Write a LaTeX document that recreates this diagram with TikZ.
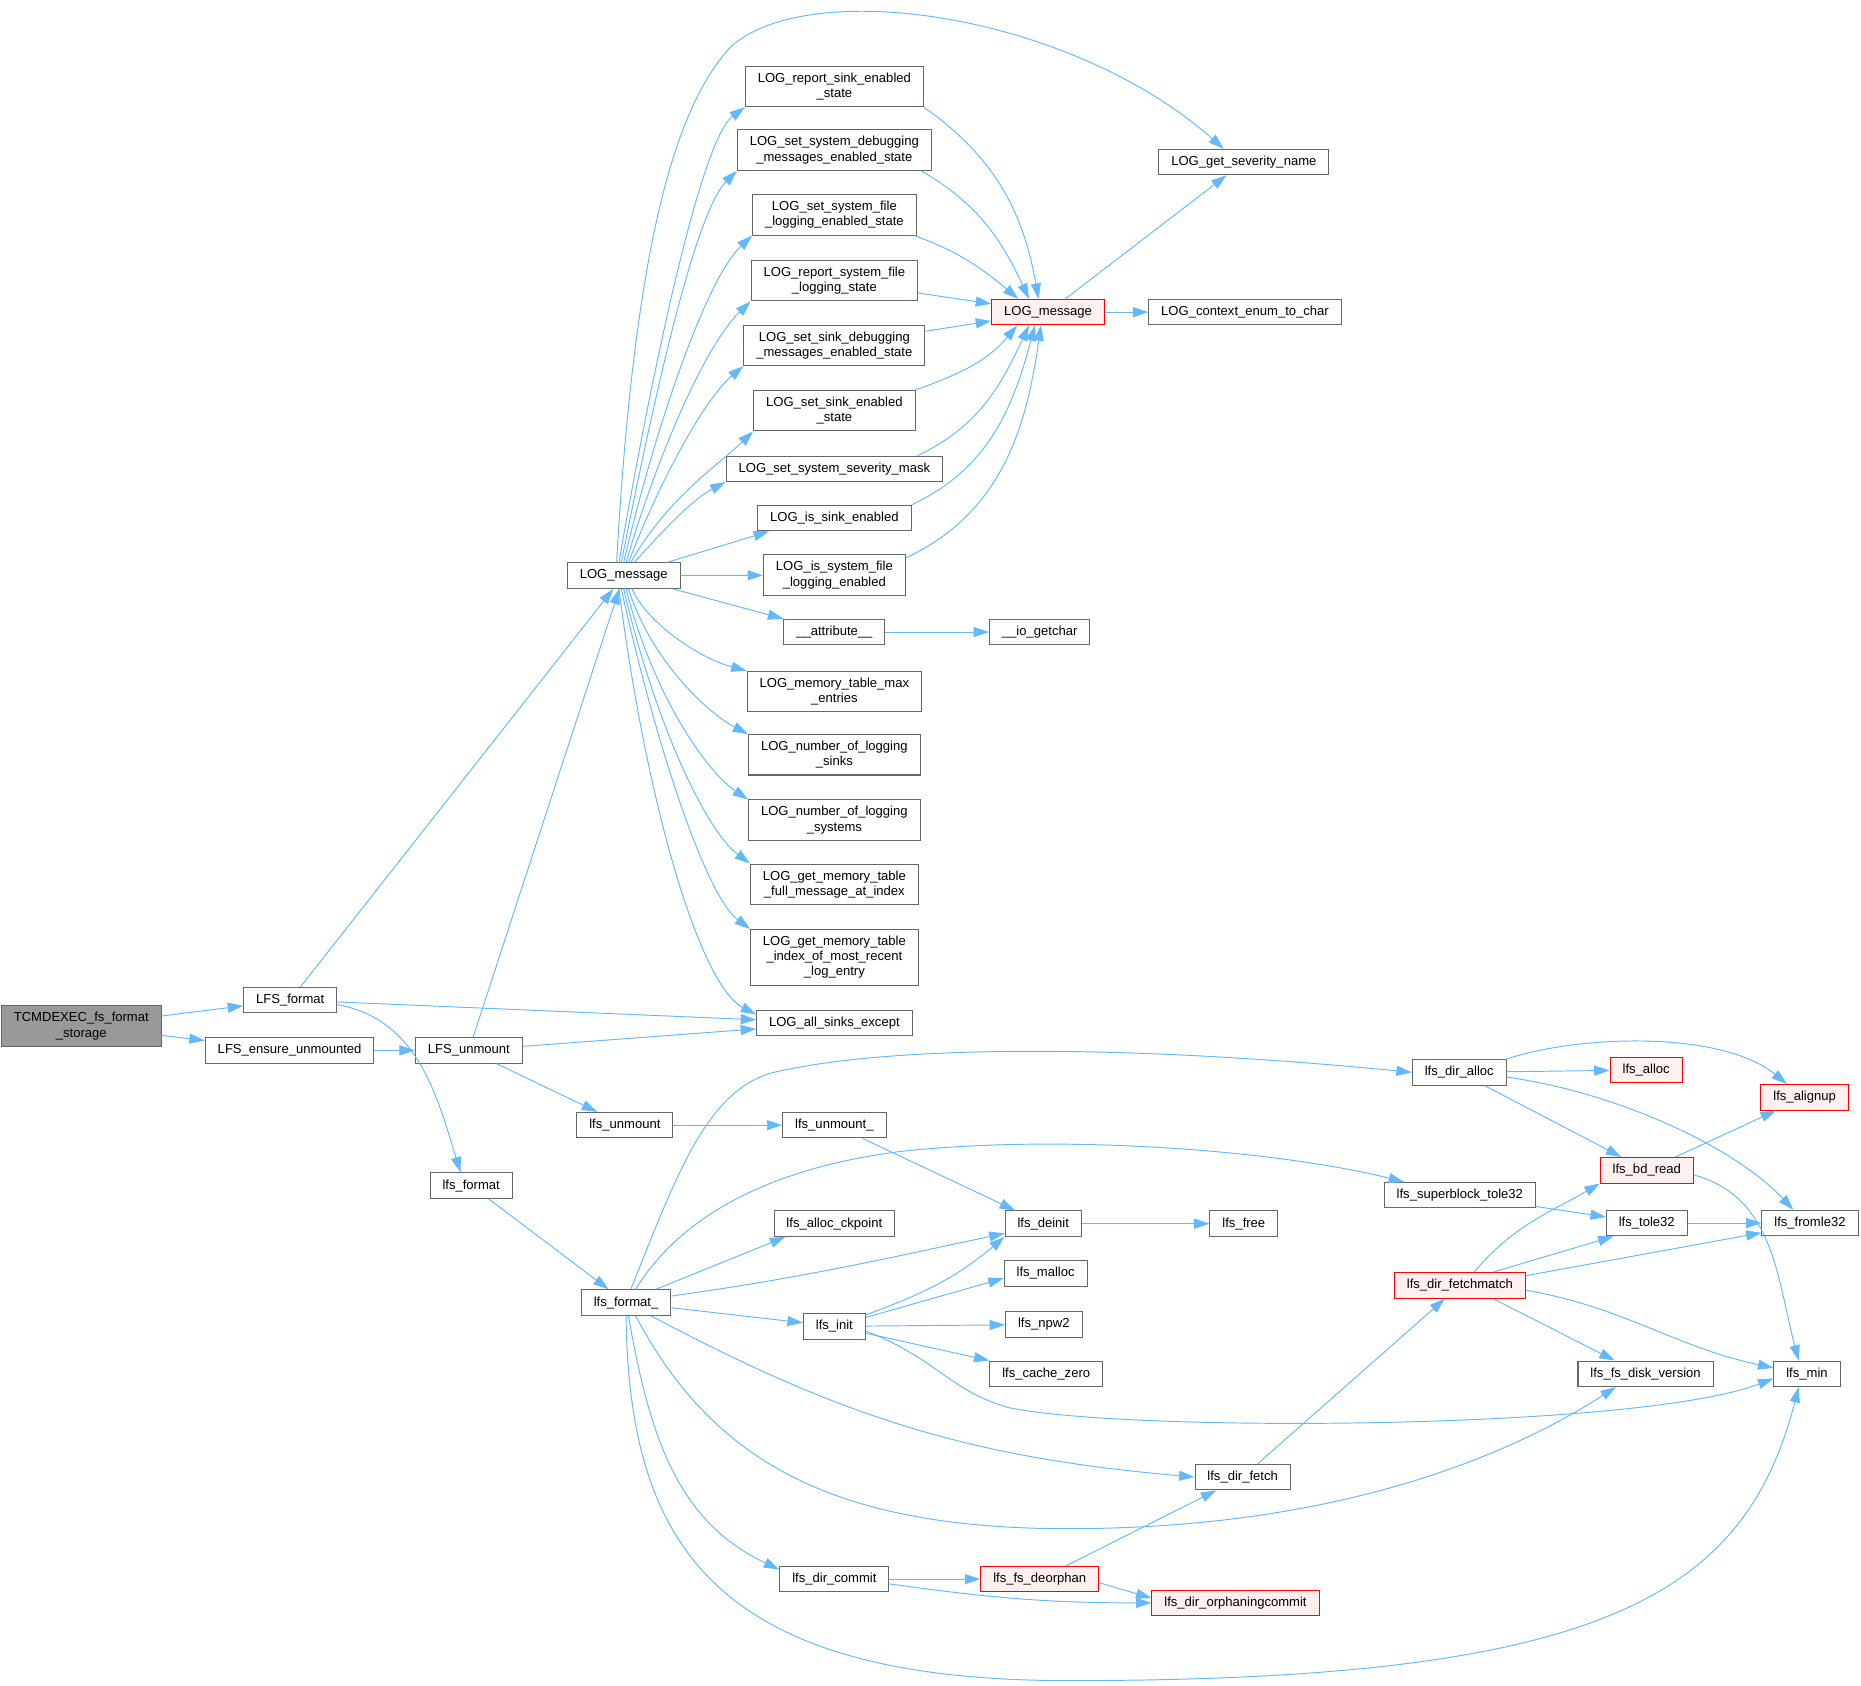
\documentclass[tikz,border=0pt]{standalone}
\usepackage{fontspec}
\setmainfont{Liberation Sans}
\usepackage{xcolor}
\usepackage{tikz}
\usetikzlibrary{arrows.meta}
\definecolor{callblue}{HTML}{63B8FF}

\begin{document}
\begin{tikzpicture}[x=1pt,y=1pt,
	fn/.style={draw=black!60, fill=white, line width=0.85pt, inner xsep=10.5pt, inner ysep=5.5pt, minimum height=21.5pt, align=center, font=\fontsize{11}{12.8}\selectfont},
	hot/.style={fn, draw=red, fill=red!6},
	root/.style={fn, fill=black!40},
	call/.style={draw=callblue, line width=0.8pt, -{Triangle[length=13pt,width=8.5pt]}}]

	\useasboundingbox (0,0) rectangle (1568,-1420.5);

	\node[root] (tc) at (68.5,-864.5) {TCMDEXEC\_fs\_format\\\_storage};
	\node[fn] (lfsf) at (244.5,-842.5) {LFS\_format};
	\node[fn] (lfse) at (244,-885) {LFS\_ensure\_unmounted};
	\node[fn] (lfsu) at (395,-885) {LFS\_unmount};
	\node[fn] (lfsfmt) at (397,-999) {lfs\_format};
	\node[fn] (lm) at (525.5,-485) {LOG\_message};
	\node[fn] (lu) at (526.5,-948) {lfs\_unmount};
	\node[fn] (lf) at (527.5,-1097.5) {lfs\_format\_};

	\node[fn] (rse) at (703,-73) {LOG\_report\_sink\_enabled\\\_state};
	\node[fn] (ssd) at (703,-126.5) {LOG\_set\_system\_debugging\\\_messages\_enabled\_state};
	\node[fn] (ssf) at (703,-181) {LOG\_set\_system\_file\\\_logging\_enabled\_state};
	\node[fn] (rsf) at (703,-236.5) {LOG\_report\_system\_file\\\_logging\_state};
	\node[fn] (skd) at (703,-291) {LOG\_set\_sink\_debugging\\\_messages\_enabled\_state};
	\node[fn] (ske) at (703,-346) {LOG\_set\_sink\_enabled\\\_state};
	\node[fn] (ssm) at (703,-395) {LOG\_set\_system\_severity\_mask};
	\node[fn] (ise) at (703,-436.5) {LOG\_is\_sink\_enabled};
	\node[fn] (isf) at (703,-484.5) {LOG\_is\_system\_file\\\_logging\_enabled};
	\node[fn] (attr) at (703,-532.5) {\_\_attribute\_\_};
	\node[fn] (mtm) at (703,-582.5) {LOG\_memory\_table\_max\\\_entries};
	\node[fn] (nls) at (703,-636) {LOG\_number\_of\_logging\\\_sinks};
	\node[fn] (nly) at (703,-691) {LOG\_number\_of\_logging\\\_systems};
	\node[fn] (gmf) at (703,-745) {LOG\_get\_memory\_table\\\_full\_message\_at\_index};
	\node[fn] (gmi) at (703,-806.5) {LOG\_get\_memory\_table\\\_index\_of\_most\_recent\\\_log\_entry};
	\node[fn] (ase) at (703,-862) {LOG\_all\_sinks\_except};
	\node[fn] (luu) at (703,-948) {lfs\_unmount\_};
	\node[fn] (ack) at (703,-1031) {lfs\_alloc\_ckpoint};
	\node[fn] (init) at (703,-1117.5) {lfs\_init};
	\node[fn] (dcommit) at (703,-1330.5) {lfs\_dir\_commit};

	\node[hot] (lmr) at (883,-263) {LOG\_message};
	\node[fn] (gsn) at (1048,-136.5) {LOG\_get\_severity\_name};
	\node[fn] (cetc) at (1049,-263) {LOG\_context\_enum\_to\_char};
	\node[fn] (iog) at (876,-532.5) {\_\_io\_getchar};
	\node[fn] (deinit) at (879,-1031) {lfs\_deinit};
	\node[fn] (malloc) at (881,-1073) {lfs\_malloc};
	\node[fn] (npw2) at (879.5,-1116) {lfs\_npw2};
	\node[fn] (czero) at (881.5,-1157.5) {lfs\_cache\_zero};
	\node[hot] (deorphan) at (876,-1330.5) {lfs\_fs\_deorphan};
	\node[fn] (free) at (1048,-1031) {lfs\_free};
	\node[fn] (dfetch) at (1047,-1244.5) {lfs\_dir\_fetch};
	\node[hot] (orphan) at (1041,-1350.5) {lfs\_dir\_orphaningcommit};

	\node[fn] (dalloc) at (1229.5,-903.5) {lfs\_dir\_alloc};
	\node[fn] (sbt) at (1230,-1007) {lfs\_superblock\_tole32};
	\node[hot] (dfm) at (1230,-1083) {lfs\_dir\_fetchmatch};

	\node[hot] (alloc) at (1387,-901.5) {lfs\_alloc};
	\node[hot] (bdread) at (1387.5,-986) {lfs\_bd\_read};
	\node[fn] (tole) at (1387.5,-1030.5) {lfs\_tole32};
	\node[fn] (fsdv) at (1386.5,-1157.5) {lfs\_fs\_disk\_version};

	\node[hot] (alignup) at (1520.5,-924.5) {lfs\_alignup};
	\node[fn] (fromle) at (1525,-1030.5) {lfs\_fromle32};
	\node[fn] (min) at (1522.5,-1157.5) {lfs\_min};

	\draw[call] (tc) -- (lfsf);
	\draw[call] (tc) -- (lfse);
	\draw[call] (lfsf) -- (lm);
	\draw[call] (lfsf) -- (ase);
	\draw[call] ([yshift=-4pt]lfsf.east) to[out=-10,in=107] ([xshift=-9pt]lfsfmt.north);
	\draw[call] (lfse) -- (lfsu);
	\draw[call] (lfsu) -- (lm);
	\draw[call] (lfsu) -- (ase);
	\draw[call] (lfsu) -- (lu);
	\draw[call] (lfsfmt) -- (lf);

	\draw[call] ([xshift=-6pt]lm.north) .. controls (535,-200) and (570,-90) .. (615,-40) .. controls (680,20) and (900,-10) .. ([xshift=-17pt]gsn.north);
	\draw[call] ([xshift=-4pt]lm.north) .. controls (548,-320) and (590,-118) .. (rse.south west);
	\draw[call] ([xshift=-2pt]lm.north) .. controls (550,-340) and (585,-180) .. (ssd.south west);
	\draw[call] (lm.north) .. controls (552,-360) and (595,-235) .. (ssf.south west);
	\draw[call] ([xshift=2pt]lm.north) .. controls (555,-380) and (595,-290) .. (rsf.south west);
	\draw[call] ([xshift=4pt]lm.north) .. controls (558,-400) and (595,-335) .. (skd.south west);
	\draw[call] ([xshift=6pt]lm.north) .. controls (562,-420) and (605,-392) .. (ske.south west);
	\draw[call] ([xshift=9pt]lm.north) .. controls (565,-440) and (585,-420) .. (ssm.south west);
	\draw[call] (lm) -- ([xshift=10pt]ise.south west);
	\draw[call] (lm) -- (isf);
	\draw[call] (lm) -- (attr.north west);
	\draw[call] ([xshift=7pt]lm.south) .. controls (545,-525) and (590,-555) .. (mtm.north west);
	\draw[call] ([xshift=4pt]lm.south) .. controls (548,-555) and (595,-600) .. (nls.north west);
	\draw[call] ([xshift=2pt]lm.south) .. controls (550,-585) and (595,-650) .. (nly.north west);
	\draw[call] (lm.south) .. controls (552,-610) and (595,-700) .. (gmf.north west);
	\draw[call] ([xshift=-2pt]lm.south) .. controls (553,-630) and (595,-755) .. (gmi.north west);
	\draw[call] ([xshift=-4pt]lm.south) .. controls (545,-680) and (590,-830) .. ([yshift=-4pt]ase.north west);

	\draw[call] (rse.south east) to[out=-35,in=100] ([xshift=-8pt]lmr.north);
	\draw[call] ([xshift=-9pt]ssd.south east) to[out=-30,in=115] ([xshift=-16pt]lmr.north);
	\draw[call] ([xshift=-2pt]ssf.south east) to[out=-20,in=140] ([xshift=-25pt]lmr.north);
	\draw[call] (rsf) -- (lmr);
	\draw[call] (skd) -- (lmr);
	\draw[call] (ske.north east) to[out=20,in=-130] ([xshift=-26pt]lmr.south);
	\draw[call] ([xshift=70pt]ssm.north) to[out=25,in=-115] ([xshift=-16pt]lmr.south);
	\draw[call] (ise.north east) to[out=25,in=-105] ([xshift=-11pt]lmr.south);
	\draw[call] ([yshift=-3pt]isf.north east) to[out=25,in=-98] ([xshift=-6pt]lmr.south);
	\draw[call] (lmr) -- (gsn);
	\draw[call] (lmr) -- (cetc);
	\draw[call] (attr) -- (iog);

	\draw[call] (lu) -- (luu);
	\draw[call] (luu) -- (deinit);
	\draw[call] (deinit) -- (free);
	\draw[call] ([xshift=4pt]lf.north) .. controls (570,-990) and (595,-920) .. (650,-904) .. controls (750,-880) and (950,-880) .. (dalloc.west);
	\draw[call] ([xshift=8pt]lf.north) .. controls (570,-1030) and (640,-985) .. (760,-970) .. controls (900,-955) and (1080,-970) .. ([xshift=-47pt]sbt.north);
	\draw[call] ([xshift=25pt]lf.north) -- ([xshift=10pt]ack.south west);
	\draw[call] ([yshift=5.5pt]lf.east) to[out=8,in=192] ([yshift=3pt]deinit.south west);
	\draw[call] (lf) -- (init);
	\draw[call] (lf) to[out=-28,in=175] (dfetch.west);
	\draw[call] ([xshift=8pt]lf.south) .. controls (600,-1230) and (700,-1288) .. (900,-1288) .. controls (1100,-1288) and (1250,-1240) .. ([xshift=-25pt]fsdv.south);
	\draw[call] (lf) to[out=-80,in=155] ([yshift=-3pt]dcommit.north west);
	\draw[call] (lf.south) .. controls (530,-1300) and (600,-1416) .. (900,-1416) .. controls (1350,-1416) and (1470,-1345) .. ([xshift=-7pt]min.south);

	\draw[call] (init) to[out=20,in=-140] (deinit.south west);
	\draw[call] (init) -- ([yshift=-4pt]malloc.west);
	\draw[call] (init) -- (npw2);
	\draw[call] (init) -- (czero.north west);
	\draw[call] ([yshift=-4pt]init.east) .. controls (790,-1145) and (800,-1172) .. (850,-1186) .. controls (950,-1207) and (1380,-1205) .. ([yshift=-4pt]min.west);

	\draw[call] (dcommit) -- (deorphan);
	\draw[call] ([yshift=-4pt]dcommit.east) to[out=-8,in=180] (orphan.west);
	\draw[call] ([yshift=-3pt]deorphan.east) -- ([yshift=4pt]orphan.west);
	\draw[call] (deorphan) -- (dfetch);
	\draw[call] (dfetch) -- (dfm);

	\draw[call] (dalloc) -- (alloc);
	\draw[call] (dalloc.north east) .. controls (1330,-872) and (1450,-868) .. ([xshift=-15pt]alignup.north);
	\draw[call] (dalloc) -- (bdread);
	\draw[call] ([yshift=-4pt]dalloc.east) .. controls (1360,-920) and (1460,-965) .. ([xshift=-14pt]fromle.north);
	\draw[call] (sbt) -- (tole);
	\draw[call] (tole) -- (fromle);

	\draw[call] ([xshift=12pt]dfm.north) to[out=50,in=-150] (bdread.south west);
	\draw[call] ([xshift=28pt]dfm.north) -- ([xshift=-28pt]tole.south);
	\draw[call] ([yshift=-3pt]dfm.north east) -- ([yshift=3pt]fromle.south west);
	\draw[call] ([xshift=28pt]dfm.south) -- ([xshift=-26pt]fsdv.north);
	\draw[call] ([yshift=-4pt]dfm.east) to[out=-10,in=168] ([yshift=5pt]min.west);
	\draw[call] (bdread) -- (alignup);
	\draw[call] ([yshift=-4pt]bdread.east) to[out=-15,in=105] ([xshift=-7pt]min.north);

\end{tikzpicture}
\end{document}
